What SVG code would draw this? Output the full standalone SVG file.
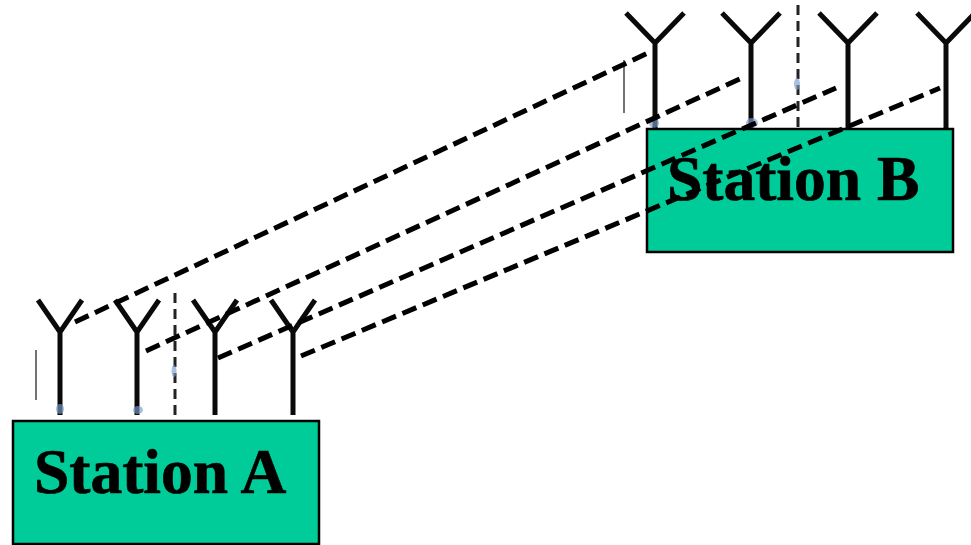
<svg xmlns="http://www.w3.org/2000/svg" width="971" height="545" viewBox="0 0 971 545">
<style>
.box{fill:#00cc99;stroke:#000;stroke-width:2.5}
.lbl{font-family:"Liberation Serif","Times New Roman",serif;font-weight:bold;font-size:63.5px;fill:#000;stroke:#000;stroke-width:.7}
.ant{fill:none;stroke:#0a0a0a;stroke-width:5}
.axis{fill:none;stroke:#222;stroke-width:3;stroke-dasharray:10 6}
.thin{fill:none;stroke:#444;stroke-width:1.5}
.link{fill:none;stroke:#000;stroke-width:5;stroke-dasharray:15 7}
.smudge{fill:#7d9ccc;opacity:.65}
</style>
<defs>
<path id="yA" d="M-22 0L0 32M22 0L0 32V115"/>
<path id="yB" d="M-29 0L0 30M29 0L0 30V115"/>
</defs>
<rect width="971" height="545" fill="#fff"/>
<g id="antennas-a">
<use href="#yA" class="ant" x="60" y="300"/>
<use href="#yA" class="ant" x="137" y="300"/>
<use href="#yA" class="ant" x="215" y="300"/>
<use href="#yA" class="ant" x="293" y="300"/>
<path class="axis" d="M175 293V415"/>
<path class="thin" d="M36 350V400"/>
<ellipse class="smudge" cx="60" cy="409" rx="4" ry="5"/>
<ellipse class="smudge" cx="138" cy="410" rx="5" ry="4"/>
<ellipse class="smudge" cx="174" cy="371" rx="2.5" ry="6"/>
</g>
<g id="antennas-b">
<use href="#yB" class="ant" x="655" y="13"/>
<use href="#yB" class="ant" x="751" y="13"/>
<use href="#yB" class="ant" x="848" y="13"/>
<use href="#yB" class="ant" x="946" y="13"/>
<path class="axis" d="M798 5V128"/>
<path class="thin" d="M624 60V113"/>
<ellipse class="smudge" cx="654" cy="123" rx="5" ry="5"/>
<ellipse class="smudge" cx="752" cy="123" rx="6" ry="5"/>
<ellipse class="smudge" cx="797" cy="84" rx="3" ry="6"/>
</g>
<g id="station-a">
<rect class="box" x="13" y="421" width="306" height="123"/>
<text class="lbl" x="34" y="493">Station A</text>
</g>
<g id="station-b">
<rect class="box" x="647" y="129" width="306" height="123"/>
<text class="lbl" x="667" y="200">Station B</text>
</g>
<g id="connectors">
<path class="link" d="M75 322L648 53"/>
<path class="link" d="M146 351L744 77"/>
<path class="link" d="M218 358L836 88"/>
<path class="link" d="M301 356L940 88"/>
</g>
</svg>
